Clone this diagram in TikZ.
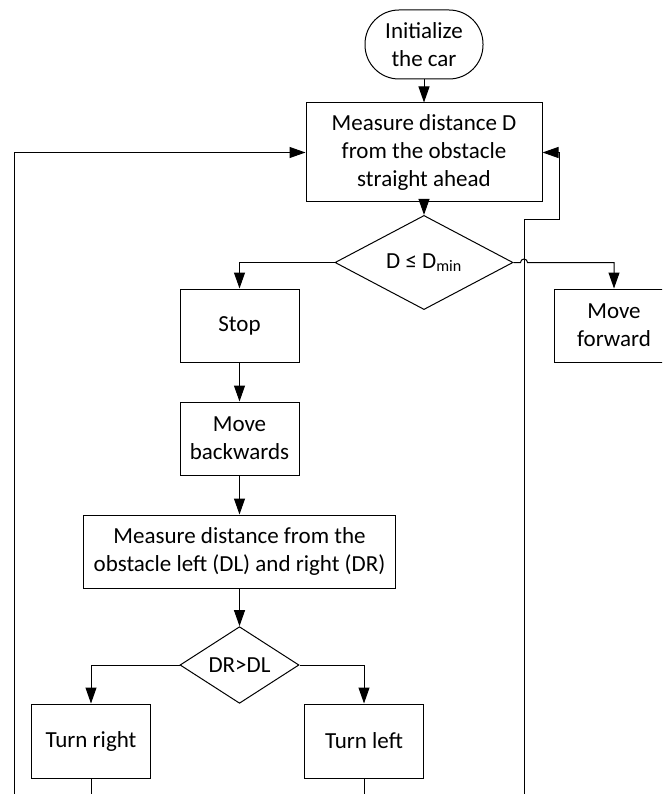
\documentclass[tikz,border=0pt]{standalone}
\usepackage{fontspec}
\setmainfont{Carlito}
\usetikzlibrary{shapes.geometric,arrows.meta,calc}

\begin{document}
\begin{tikzpicture}[x=1pt,y=-1pt,line width=1pt,font=\fontsize{23}{28.3}\selectfont,
  box/.style={draw,align=center,inner sep=0pt,minimum width=119pt,minimum height=73pt},
  cond/.style={draw,diamond,align=center,inner sep=0pt},
  arr/.style={-{Triangle[length=16pt,width=11pt]}}]
\clip (0,0) rectangle (662,794);
\node[draw,rounded corners=34pt,align=center,minimum width=118pt,minimum height=69pt] (init) at (424,44.5) {Initialize\\the car};
\node[box,minimum width=236pt,minimum height=99pt] (meas) at (424,152.5) {Measure distance D\\from the obstacle\\straight ahead};
\node[cond,minimum width=178pt,minimum height=73pt] (dmin) at (424,262.5) {D ≤ D\textsubscript{min}};
\node[box] (stop) at (239.5,325.5) {Stop};
\node[box,minimum width=120pt] (fwd) at (614,325.5) {Move\\forward};
\node[box] (back) at (239.5,438.5) {Move\\backwards};
\node[box,minimum width=312pt] (meas2) at (239.5,551.5) {Measure distance from the\\obstacle left (DL) and right (DR)};
\node[cond,minimum width=119pt,minimum height=74pt] (drdl) at (239.5,665) {DR>DL};
\node[box,minimum height=74pt] (turnR) at (91,741) {Turn right};
\node[box,minimum height=74pt] (turnL) at (364,741) {Turn left};
\coordinate (bot) at (0,794);
\coordinate (loopL) at (14,794);
\coordinate (loopR) at (524,794);
\coordinate (bend) at (559,220);
\draw[arr] (init) -- (meas);
\draw[arr] (meas) -- (dmin);
\draw[arr] (dmin.west) -| (stop.north);
\draw[arr] (dmin.east) -- ($(dmin.east -| loopR)+(-3.5,0)$) arc[start angle=180,end angle=0,radius=3.5pt] -| (fwd.north);
\draw[arr] (stop) -- (back);
\draw[arr] (back) -- (meas2);
\draw[arr] (meas2) -- (drdl);
\draw[arr] (drdl.west) -| (turnR.north);
\draw[arr] (drdl.east) -| (turnL.north);
\draw (turnR.south) -- (turnR.south |- bot);
\draw (turnL.south) -- (turnL.south |- bot);
\draw[arr] (loopL) |- (meas.west);
\draw[arr] (loopR) |- (bend) |- (meas.east);
\end{tikzpicture}
\end{document}
